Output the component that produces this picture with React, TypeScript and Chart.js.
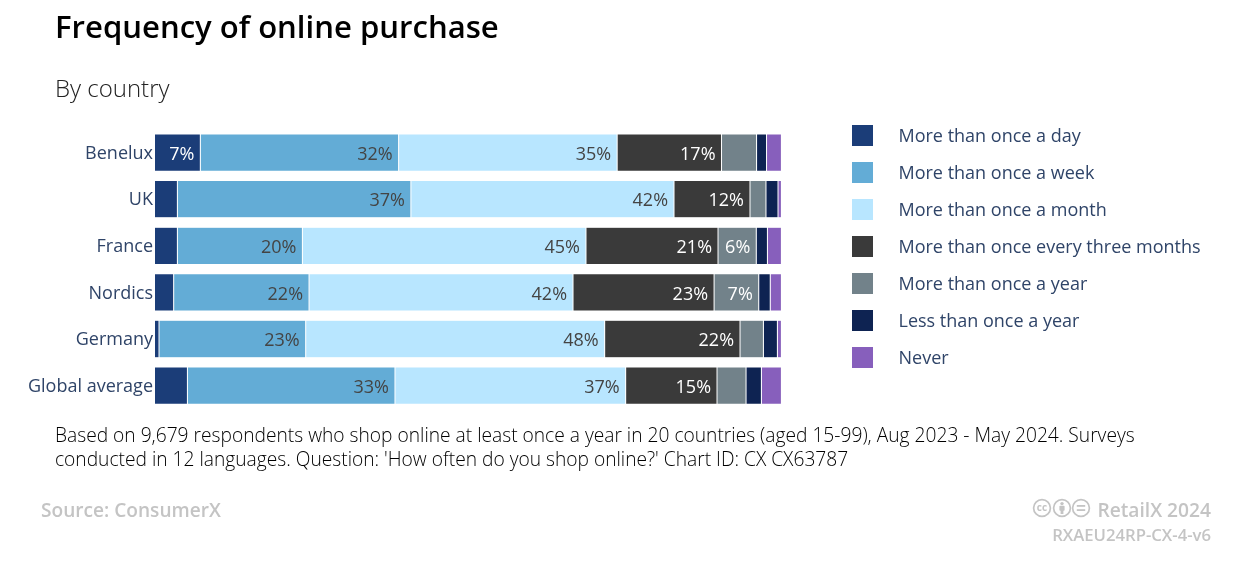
import React, { useEffect, useRef } from "react";
import { Chart, registerables } from "chart.js";

Chart.register(...registerables);

const categories = ["Benelux", "UK", "France", "Nordics", "Germany", "Global average"];
const seriesNames = [
  "More than once a day",
  "More than once a week",
  "More than once a month",
  "More than once every three months",
  "More than once a year",
  "Less than once a year",
  "Never",
];
const colors = ["#1B3D78", "#63ACD6", "#B8E6FF", "#3A3A3A", "#72828A", "#0E2352", "#875FBC"];
const labelColors = ["#FFFFFF", "#444444", "#444444", "#FFFFFF", "#FFFFFF", "#FFFFFF", "#FFFFFF"];

const moreThanDay = [7.31, 3.65, 3.65, 3.06, 0.72, 5.25];
const moreThanWeek = [31.63, 37.25, 19.94, 21.59, 23.4, 33.11];
const moreThanMonth = [34.86, 41.97, 45.24, 42.11, 47.69, 36.8];
const moreThanQuarter = [16.65, 12.12, 21.06, 22.5, 21.59, 14.57];
const moreThanYear = [5.59, 2.55, 6.1, 7.13, 3.73, 4.63];
const lessThanYear = [1.59, 1.92, 1.78, 1.83, 2.23, 2.45];
const never = [2.37, 0.54, 2.23, 1.78, 0.64, 3.19];

const seriesValues = [moreThanDay, moreThanWeek, moreThanMonth, moreThanQuarter, moreThanYear, lessThanYear, never];

const FONT = '"Open Sans", sans-serif';
const LABEL_THRESHOLD = 5.9;

const segmentLabels = {
  id: "segmentLabels",
  afterDatasetsDraw(chart: any) {
    const ctx = chart.ctx;
    ctx.save();
    ctx.font = `18px ${FONT}`;
    ctx.textAlign = "right";
    ctx.textBaseline = "middle";
    chart.data.datasets.forEach((ds: any, i: number) => {
      chart.getDatasetMeta(i).data.forEach((bar: any, j: number) => {
        const v = ds.data[j];
        if (v < LABEL_THRESHOLD) return;
        ctx.fillStyle = labelColors[i];
        ctx.fillText(`${Math.round(v)}%`, bar.x - 6, bar.y + 2);
      });
    });
    ctx.restore();
  },
};

const abs = (x: number, y: number, extra: React.CSSProperties = {}): React.CSSProperties => ({
  position: "absolute",
  left: x,
  top: y,
  whiteSpace: "nowrap",
  fontFamily: FONT,
  ...extra,
});

function CcIcon({ x, kind }: { x: number; kind: "cc" | "by" | "eq" }) {
  return (
    <svg style={{ position: "absolute", left: x, top: 498 }} width="20" height="20" viewBox="0 0 20 20">
      <circle cx="10" cy="10" r="8.4" fill="none" stroke="#C4C4C4" strokeWidth="1.7" />
      {kind === "cc" && (
        <text x="10" y="13" textAnchor="middle" fontSize="10" fontWeight="700" fill="#C4C4C4" fontFamily={FONT}>cc</text>
      )}
      {kind === "by" && (
        <g fill="#C4C4C4">
          <circle cx="10" cy="5.6" r="1.7" />
          <rect x="7.4" y="7.8" width="5.2" height="5" rx="0.8" />
          <rect x="8.6" y="12" width="2.8" height="4" />
        </g>
      )}
      {kind === "eq" && (
        <g fill="#C4C4C4">
          <rect x="5.8" y="7" width="8.4" height="1.8" />
          <rect x="5.8" y="11.2" width="8.4" height="1.8" />
        </g>
      )}
    </svg>
  );
}

export default function App() {
  const ref = useRef<HTMLCanvasElement>(null);
  useEffect(() => {
    document.body.style.margin = "0";
    const chart = new Chart(ref.current!, {
      type: "bar",
      data: {
        labels: categories,
        datasets: seriesNames.map((name, i) => ({
          label: name,
          data: seriesValues[i],
          backgroundColor: colors[i],
          borderColor: "#FFFFFF",
          borderWidth: 0.5,
          borderSkipped: false,
          barPercentage: 0.8,
          categoryPercentage: 1,
        })),
      },
      options: {
        indexAxis: "y",
        responsive: false,
        animation: false,
        layout: { padding: { left: 0, right: 1242 - 781.4, top: 129.3, bottom: 561 - 408.9 } },
        plugins: { legend: { display: false }, title: { display: false }, tooltip: { enabled: false } },
        scales: {
          x: { stacked: true, min: 0, max: 100, display: false },
          y: {
            stacked: true,
            afterFit: (s: any) => {
              s.width = 154.5;
              if (!s.__shifted) {
                s.__shifted = true;
                const orig = s._computeLabelItems.bind(s);
                s._computeLabelItems = (area: any) =>
                  orig(area).map((item: any) => ({
                    ...item,
                    options: {
                      ...item.options,
                      translation: [item.options.translation[0], item.options.translation[1] + 1],
                    },
                  }));
              }
            },
            grid: { display: false, drawTicks: false },
            border: { display: false },
            ticks: { color: "#2F4468", font: { family: FONT, size: 18 }, padding: 1.5, autoSkip: false },
          },
        },
      } as any,
      plugins: [segmentLabels],
    });
    return () => chart.destroy();
  }, []);

  return (
    <div style={{ position: "relative", width: 1242, height: 561, overflow: "hidden", background: "#fff" }}>
      <canvas ref={ref} width={1242} height={561} style={{ position: "absolute", left: 0, top: 0 }} />
      <div style={abs(55, 6, { fontSize: 31.1, fontWeight: 600, color: "#000", lineHeight: "41px" })}>Frequency of online purchase</div>
      <div style={abs(55, 71, { fontSize: 24, fontWeight: 300, color: "#222", lineHeight: "34px" })}>By country</div>
      {seriesNames.map((name, i) => (
        <React.Fragment key={name}>
          <div style={{ position: "absolute", left: 852, top: 125 + i * 37, width: 21, height: 21, background: colors[i] }} />
          <div style={abs(898.5, 122 + i * 37, { fontSize: 18, lineHeight: "27px", color: "#2F4468" })}>{name}</div>
        </React.Fragment>
      ))}
      <div style={abs(55, 422.5, { fontSize: 19.2, fontWeight: 300, lineHeight: "24.5px", color: "#000" })}>
        Based on 9,679 respondents who shop online at least once a year in 20 countries (aged 15-99), Aug 2023 - May 2024. Surveys
        <br />
        conducted in 12 languages. Question: 'How often do you shop online?' Chart ID: CX CX63787
      </div>
      <div style={abs(41, 496, { fontSize: 19.1, fontWeight: 600, lineHeight: "28px", color: "#C4C4C4" })}>Source: ConsumerX</div>
      <CcIcon x={1032} kind="cc" />
      <CcIcon x={1052} kind="by" />
      <CcIcon x={1071} kind="eq" />
      <div style={{ ...abs(0, 496, { fontSize: 19.2, fontWeight: 600, lineHeight: "28px", color: "#C4C4C4" }), left: "auto", right: 31 }}>RetailX 2024</div>
      <div style={{ ...abs(0, 523, { fontSize: 16.7, fontWeight: 600, lineHeight: "24px", color: "#C4C4C4" }), left: "auto", right: 31 }}>RXAEU24RP-CX-4-v6</div>
    </div>
  );
}
